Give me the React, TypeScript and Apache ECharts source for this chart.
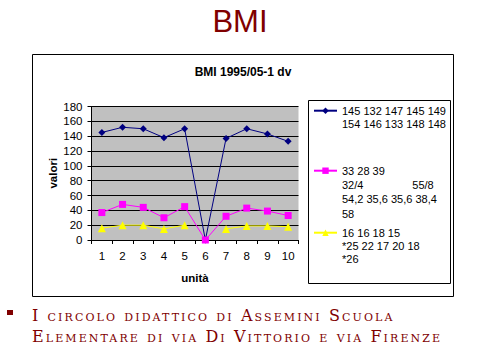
import React, { useEffect, useRef } from "react";
import * as echarts from "echarts";

const categories = ["1", "2", "3", "4", "5", "6", "7", "8", "9", "10"];
const seriesNames = [
  "145 132 147 145 149\n154 146 133 148 148",
  "33 28 39\n32/4                55/8\n54,2 35,6 35,6 38,4\n58",
  "16 16 18 15\n*25 22 17 20 18\n*26",
];
const blueValues = [145, 152, 150, 138, 150, 0, 137, 150, 143, 133];
const magentaValues = [37, 48, 44, 30, 45, 0, 32, 43, 39, 33];
const yellowValues: (number | null)[] = [16, 20, 20, 15, 20, null, 15, 19, 19, 18];
const yMin = 0;
const yMax = 180;
const yStep = 20;
const pageTitle = "BMI";
const chartTitle = "BMI 1995/05-1 dv";
const xName = "unità";
const yName = "valori";
const footerLines = [
  "I circolo didattico di Assemini Scuola",
  "Elementare di via Di Vittorio e via Firenze",
];

const FONT = "'Liberation Sans', Arial, sans-serif";
const colors = ["#000080", "#ff00ff", "#ffff00"];
const symbols = ["diamond", "rect", "triangle"];
const symbolSizes = [7, 7, 8];
const legendCenters = [110.7, 170.7, 232.7];
const legendLineHeights = [13.4, 14.4, 13.4];

export default function App() {
  const ref = useRef<HTMLDivElement>(null);
  useEffect(() => {
    if (!ref.current) return;
    const chart = echarts.init(ref.current, null, { renderer: "svg" });
    const values = [blueValues, magentaValues, yellowValues];
    const legends = seriesNames.map((name, i) => {
      const n = name.split("\n").length;
      const L = legendLineHeights[i];
      return {
        data: [name],
        left: 313,
        top: legendCenters[i] - ((2 * n - 1) * L) / 2,
        orient: "vertical",
        padding: 0,
        itemWidth: 23,
        itemHeight: 8,
        selectedMode: false,
        formatter: (s: string) => "\n".repeat(n - 1) + s,
        textStyle: { fontSize: 11, fontFamily: FONT, color: "#000", lineHeight: L },
      };
    });
    chart.setOption({
      animation: false,
      backgroundColor: "#fff",
      grid: {
        left: 91.5,
        top: 106.5,
        width: 207,
        height: 133.5,
        show: true,
        backgroundColor: "#c0c0c0",
        borderWidth: 0,
        outerBoundsMode: "none",
      },
      legend: legends,
      xAxis: {
        type: "category",
        data: categories,
        boundaryGap: true,
        name: xName,
        nameLocation: "middle",
        nameGap: 32,
        nameTextStyle: { fontSize: 11.5, fontWeight: "bold", fontFamily: FONT, color: "#000" },
        axisLine: { lineStyle: { color: "#000", width: 1 } },
        axisTick: { show: true, length: 4, lineStyle: { color: "#000" } },
        axisLabel: { fontSize: 11.5, fontFamily: FONT, color: "#000", margin: 10 },
        splitLine: { show: false },
      },
      yAxis: {
        type: "value",
        min: yMin,
        max: yMax,
        interval: yStep,
        name: yName,
        nameLocation: "middle",
        nameGap: 33,
        nameRotate: 90,
        nameTextStyle: { fontSize: 11.5, fontWeight: "bold", fontFamily: FONT, color: "#000" },
        axisLine: { show: true, lineStyle: { color: "#000", width: 1 } },
        axisTick: { show: true, length: 4, lineStyle: { color: "#000" } },
        axisLabel: { fontSize: 11.5, fontFamily: FONT, color: "#000", margin: 9 },
        splitLine: { show: true, lineStyle: { color: "#000", width: 1 } },
      },
      series: seriesNames.map((name, i) => ({
        name,
        type: "line",
        data: values[i],
        symbol: symbols[i],
        symbolSize: symbolSizes[i],
        showSymbol: true,
        connectNulls: false,
        lineStyle: { color: colors[i], width: 1 },
        itemStyle: { color: colors[i] },
        emphasis: { disabled: true },
      })),
      graphic: [
        {
          type: "text",
          x: 240,
          y: 21,
          style: {
            text: pageTitle,
            fill: "#800000",
            fontSize: 31,
            fontFamily: FONT,
            textAlign: "center",
            textVerticalAlign: "middle",
          },
        },
        {
          type: "rect",
          shape: { x: 32.5, y: 54.5, width: 421, height: 242 },
          style: { fill: "none", stroke: "#000", lineWidth: 1 },
          z: 10,
        },
        {
          type: "text",
          x: 243,
          y: 72,
          style: {
            text: chartTitle,
            fill: "#000",
            fontSize: 12,
            fontWeight: "bold",
            fontFamily: FONT,
            textAlign: "center",
            textVerticalAlign: "middle",
          },
        },
        {
          type: "rect",
          shape: { x: 308.5, y: 100.5, width: 142, height: 183 },
          style: { fill: "none", stroke: "#000", lineWidth: 1 },
          z: 10,
        },
        {
          type: "rect",
          shape: { x: 7, y: 310, width: 6, height: 5 },
          style: { fill: "#800000" },
        },
        ...footerLines.map((t, i) => ({
          type: "text",
          x: 32,
          y: 321 + i * 21,
          style: {
            text: t,
            fill: "#800000",
            font: "small-caps 16px 'DejaVu Serif', serif; letter-spacing: 2.1px",
            textAlign: "left",
            textVerticalAlign: "bottom",
          },
        })),
      ],
    });
    return () => chart.dispose();
  }, []);
  return (
    <div
      ref={ref}
      style={{ position: "absolute", left: 0, top: 0, width: 482, height: 355 }}
    />
  );
}
